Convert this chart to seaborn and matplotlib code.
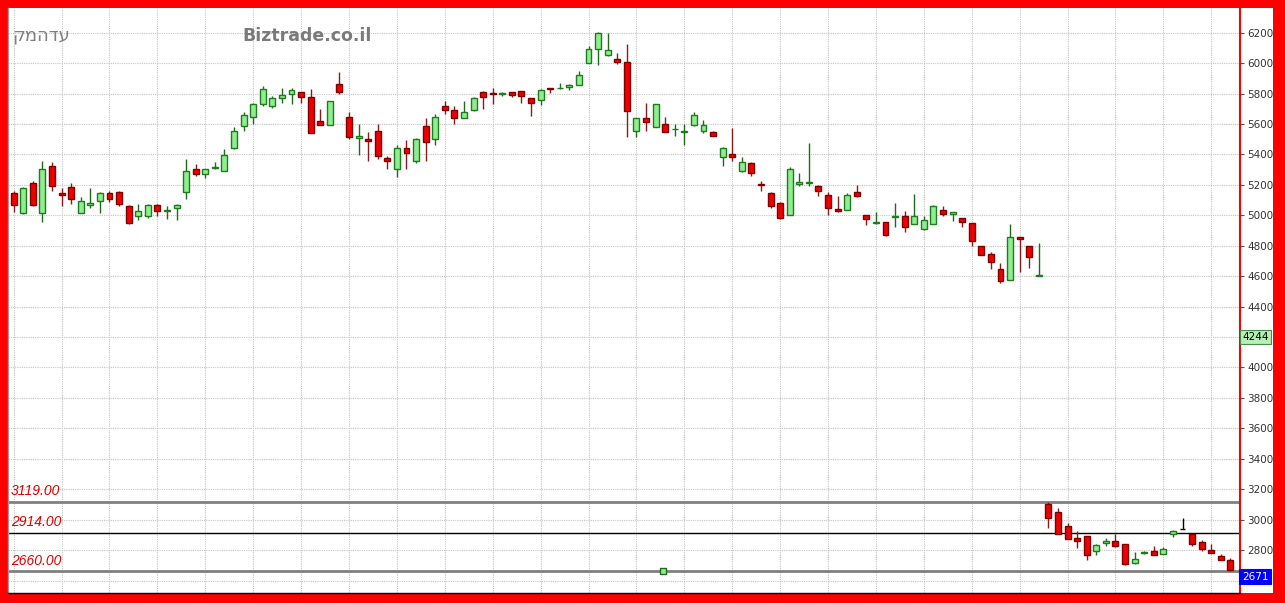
import numpy as np
import pandas as pd
import matplotlib
matplotlib.use('Agg')
import matplotlib.pyplot as plt
import seaborn as sb
from matplotlib.patches import Rectangle

# daily candles (price in agorot)
opens = [5145, 5016, 5211, 5016, 5323, 5145, 5189, 5016, 5069, 5093,
         5145, 5156, 5064, 4998, 4994, 5069, 5031, 5045, 5150, 5303,
         5274, 5309, 5294, 5441, 5588, 5647, 5730, 5715, 5769, 5800,
         5807, 5774, 5619, 5595, 5861, 5647, 5506, 5501, 5551, 5379,
         5301, 5442, 5355, 5584, 5499, 5719, 5689, 5641, 5693, 5807,
         5802, 5798, 5813, 5818, 5772, 5759, 5835, 5835, 5844, 5857,
         5999, 6095, 6051, 6030, 6008, 5551, 5636, 5582, 5599, 5565,
         5549, 5595, 5553, 5545, 5383, 5403, 5293, 5341, 5204, 5147,
         5080, 4999, 5203, 5214, 5190, 5133, 5043, 5036, 5155, 4999,
         4947, 4953, 4990, 4993, 4940, 4909, 4945, 5036, 5006, 4980,
         4947, 4800, 4743, 4647, 4577, 4855, 4800, 4600, 3101, 3051,
         2956, 2881, 2894, 2793, 2846, 2859, 2842, 2716, 2780, 2793,
         2776, 2908, 2938, 2908, 2850, 2798, 2762, 2736]
highs = [5160, 5189, 5226, 5356, 5347, 5182, 5215, 5117, 5178, 5150,
         5160, 5160, 5069, 5075, 5073, 5073, 5058, 5073, 5369, 5336,
         5307, 5351, 5434, 5583, 5680, 5741, 5850, 5785, 5839, 5839,
         5813, 5828, 5698, 5748, 5944, 5680, 5597, 5545, 5597, 5388,
         5462, 5497, 5506, 5637, 5665, 5752, 5719, 5752, 5774, 5817,
         5839, 5807, 5813, 5818, 5772, 5833, 5839, 5866, 5861, 5949,
         6113, 6205, 6196, 6069, 6126, 5640, 5737, 5730, 5649, 5599,
         5599, 5676, 5625, 5555, 5451, 5571, 5381, 5352, 5223, 5155,
         5085, 5319, 5277, 5474, 5199, 5150, 5124, 5144, 5199, 4999,
         5023, 4953, 5080, 5025, 5139, 4993, 5069, 5058, 5019, 4980,
         4947, 4800, 4761, 4684, 4944, 4855, 4800, 4815, 3117, 3079,
         2980, 2925, 2894, 2842, 2879, 2908, 2842, 2787, 2793, 2826,
         2820, 2930, 3013, 2908, 2864, 2842, 2776, 2749]
lows = [5022, 5010, 5062, 4957, 5160, 5058, 5073, 5012, 5051, 5012,
        5084, 5062, 4942, 4968, 4983, 4996, 4977, 4970, 5110, 5255,
        5248, 5303, 5292, 5434, 5555, 5599, 5719, 5708, 5737, 5730,
        5741, 5541, 5593, 5595, 5796, 5501, 5399, 5355, 5371, 5301,
        5251, 5301, 5342, 5355, 5464, 5665, 5599, 5637, 5687, 5698,
        5730, 5785, 5774, 5741, 5654, 5726, 5802, 5829, 5824, 5857,
        5999, 5986, 6047, 5992, 5512, 5512, 5551, 5577, 5545, 5523,
        5461, 5588, 5538, 5518, 5326, 5359, 5282, 5260, 5162, 5050,
        4975, 4999, 5194, 5190, 5124, 5001, 5019, 5032, 5120, 4938,
        4942, 4861, 4925, 4888, 4940, 4903, 4945, 4997, 4960, 4920,
        4800, 4741, 4647, 4552, 4577, 4625, 4651, 4598, 2947, 2908,
        2870, 2815, 2732, 2765, 2826, 2820, 2705, 2710, 2776, 2765,
        2771, 2886, 2937, 2824, 2793, 2784, 2732, 2661]
closes = [5069, 5178, 5069, 5301, 5193, 5132, 5104, 5093, 5078, 5145,
          5110, 5073, 4950, 5031, 5069, 5031, 5036, 5069, 5294, 5268,
          5303, 5318, 5397, 5553, 5658, 5730, 5833, 5769, 5789, 5820,
          5774, 5541, 5593, 5748, 5807, 5517, 5523, 5486, 5388, 5355,
          5442, 5410, 5501, 5484, 5647, 5693, 5641, 5676, 5769, 5778,
          5796, 5800, 5791, 5785, 5741, 5824, 5829, 5839, 5855, 5925,
          6095, 6200, 6086, 6008, 5682, 5638, 5610, 5730, 5545, 5567,
          5553, 5660, 5593, 5518, 5444, 5383, 5348, 5278, 5197, 5062,
          4982, 5301, 5220, 5220, 5159, 5045, 5030, 5131, 5124, 4975,
          4953, 4872, 4995, 4920, 4993, 4966, 5058, 5010, 5019, 4953,
          4833, 4741, 4695, 4570, 4855, 4844, 4723, 4605, 3013, 2908,
          2870, 2857, 2765, 2835, 2857, 2826, 2710, 2740, 2787, 2769,
          2809, 2923, 2938, 2842, 2804, 2784, 2736, 2671]

price_ticks = list(range(2600, 6201, 200))
hidden_ticks = [2600, 4200]   # covered by the boxes on the price axis
levels = [3119.00, 2914.00, 2660.00]
level_colors = ['#808080', '#000000', '#808080']
level_widths = [2.0, 1.0, 2.0]
handle_day = [67.8]
handle_price = [2660]
last_price = 2671
side_value = 4244
title_text = 'קמהדע'
brand_text = 'Biztrade.co.il'

data = pd.DataFrame({'Open': opens, 'High': highs, 'Low': lows, 'Close': closes})
data['Day'] = np.arange(len(data))
data['Up'] = data['Close'] > data['Open']
data['Flat'] = data['Close'] == data['Open']

sb.set_style('white')
plt.rcParams['font.family'] = ['DejaVu Sans']

W, H = 1285, 603
fig = plt.figure(figsize=(W / 100, H / 100), dpi=100)
fig.patch.set_facecolor('#ff0000')
# white panel inside the red frame (drawn below the axes)
bg = fig.add_axes([8 / W, 10 / H, (1273 - 8) / W, 585 / H], zorder=-5)
bg.set_axis_off()
bg.add_patch(Rectangle((0, 0), 1, 1, transform=bg.transAxes, color='white'))

ax = fig.add_axes([8.3 / W, 10 / H, (1240 - 8.3) / W, 585 / H], zorder=1)
ax.set_facecolor('white')

# colours per candle
body_fc = np.where(data['Up'], '#90ee90', '#ee0000')
body_ec = np.where(data['Up'], '#1e7b1e', '#800000')
wick_c = np.where(data['Up'], '#1e6b1e', '#8b1a1a')
body_fc = np.where(data['Flat'], '#000000', body_fc)
body_ec = np.where(data['Flat'], '#000000', body_ec)
wick_c = np.where(data['Flat'], '#000000', wick_c)

ax.vlines(data['Day'], data['Low'], data['High'], colors=wick_c, lw=1, zorder=3)
body_low = data[['Open', 'Close']].min(axis=1)
body_h = np.maximum((data['Close'] - data['Open']).abs(), 3)
ax.bar(data['Day'], body_h, bottom=body_low, width=0.62, color=body_fc,
       edgecolor=body_ec, linewidth=1, zorder=4)

# horizontal levels
for lv, c, w in zip(levels, level_colors, level_widths):
    ax.axhline(lv, color=c, lw=w, zorder=2)
    ax.annotate('%.2f' % lv, xy=(0, lv), xycoords=('axes fraction', 'data'),
                xytext=(2, 2.5), textcoords='offset points', va='bottom', ha='left',
                color='#e00000', fontsize=10, style='italic', family='Liberation Sans')

sb.scatterplot(x=handle_day, y=handle_price, marker='s', s=22, color='#90ee90',
               edgecolor='#1e6b1e', linewidth=1, ax=ax, zorder=5)

ax.set_xlim(-0.56, 128.0)
ax.set_ylim(2518, 6362)
ax.set_xticks(range(0, 128, 5))
ax.set_xticklabels([])
ax.set_yticks(price_ticks)
ax.set_yticklabels(['' if t in hidden_ticks else str(t) for t in price_ticks])
ax.yaxis.tick_right()
ax.tick_params(axis='x', length=0)
ax.tick_params(axis='y', length=3, color='#555555', labelsize=7.5,
               labelcolor='#333333', pad=2)
ax.grid(True, color='#c4c4c4', linestyle=(0, (1, 1)), lw=0.8, zorder=0)

ax.spines['top'].set_visible(False)
ax.spines['right'].set_color('#ff0000')
ax.spines['right'].set_linewidth(1.5)
ax.spines['bottom'].set_color('#000000')
ax.spines['bottom'].set_linewidth(1)
ax.spines['left'].set_color('#999999')
ax.spines['left'].set_linewidth(1)

# boxes on the price axis
ax.annotate(str(side_value), xy=(1.0, side_value), xycoords=('axes fraction', 'data'),
            xytext=(1.5, -1), textcoords='offset points', va='top', ha='left',
            fontsize=7.5, color='#000000', annotation_clip=False, zorder=10,
            bbox=dict(boxstyle='square,pad=0.2', fc='#b4f0b4', ec='#4a8a4a', lw=0.8))
ax.annotate(str(last_price), xy=(1.0, last_price), xycoords=('axes fraction', 'data'),
            xytext=(1.5, -1.5), textcoords='offset points', va='top', ha='left',
            fontsize=7.5, color='white', annotation_clip=False, zorder=10,
            bbox=dict(boxstyle='square,pad=0.25', fc='#0000ff', ec='#0000ff', lw=0.8))

fig.text(12 / W, 1 - 36 / H, title_text, color='#7f7f7f', fontsize=13,
         va='center', ha='left', zorder=6)
fig.text(242 / W, 1 - 36 / H, brand_text, color='#7a7a7a', fontsize=12.5,
         fontweight='bold', va='center', ha='left', zorder=6)

fig.savefig('out.png', dpi=100, facecolor=fig.get_facecolor())
